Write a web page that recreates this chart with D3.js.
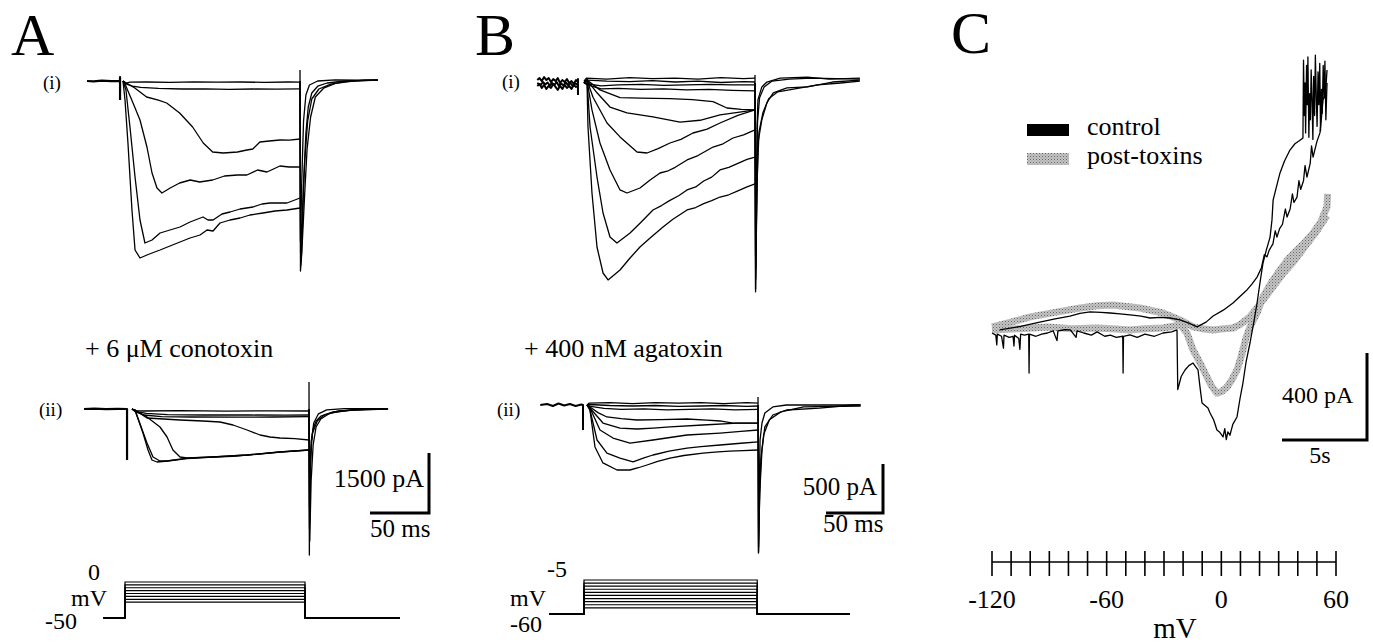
<!DOCTYPE html>
<html>
<head>
<meta charset="utf-8">
<script src="https://cdn.jsdelivr.net/npm/d3@7"></script>
<style>
  body { margin: 0; background: #fff; }
  svg { display: block; }
  text { font-family: "Liberation Serif", "Times New Roman", serif; fill: #000; }
</style>
</head>
<body>
<div id="container"></div>
<script>
// ---------- data: whole-cell currents, [time ms, current pA] ----------
// A (i) control, step -50 -> test potentials
const A1_PRE = [[-30.5, 0], [-25, -10], [-18, 8], [-10, -5], [-2.6, 0], [-2.5, 100], [-2.5, -475]];
const A1_TRACES = [
  [[0, 0], [2, -60], [6, -30], [20, -25], [40, -35], [60, -20], [80, -30], [100, -25], [120, -35], [140, -25], [150, -30]],
  [[0, 0], [3, -80], [8, -130], [15, -160], [30, -185], [50, -200], [70, -195], [90, -210], [110, -200], [130, -205], [150, -195]],
  [[0, 0], [10, -175], [20, -400], [30, -480], [37, -550], [48, -800], [59, -1150], [68, -1550], [76, -1775], [85, -1800], [97, -1775], [105, -1725], [110, -1700], [116, -1525], [124, -1500], [133, -1475], [141, -1480], [150, -1450]],
  [[0, 0], [1.7, -75], [8.5, -550], [14.4, -975], [20.3, -1650], [24.6, -2300], [28.8, -2675], [33, -2800], [40, -2675], [48, -2550], [57, -2475], [65, -2525], [76, -2475], [86, -2375], [97, -2350], [105, -2350], [114, -2225], [122, -2275], [133, -2125], [141, -2150], [150, -2150]],
  [[0, 0], [2.5, -225], [5.9, -1150], [10.2, -2400], [14.4, -3475], [18.6, -4050], [24.6, -3975], [31.4, -3800], [39.8, -3725], [48.3, -3650], [56.8, -3525], [67.8, -3400], [72, -3475], [76.3, -3475], [83.9, -3325], [90.7, -3275], [99.2, -3200], [110.2, -3150], [117.8, -3075], [124.6, -3050], [133, -3050], [139, -3050], [150, -2925]],
  [[0, 0], [1.7, -475], [4.2, -1550], [7.6, -3225], [10.2, -4225], [14.4, -4425], [20.3, -4350], [24.6, -4300], [31.4, -4225], [39.8, -4125], [48.3, -4025], [56.8, -3925], [65.3, -3850], [71.2, -3725], [76.3, -3750], [82.2, -3550], [90.7, -3475], [99.2, -3425], [107.6, -3350], [118.6, -3300], [128.8, -3250], [139, -3225], [150, -3175]]
];
const A1_TAILS = [
  [[150, 275], [150.4, -4750], [151.5, -4300], [153, -2600], [155, -1300], [157, -650], [160, -300], [165, -130], [173, -50], [188, 0], [200, 10], [216, 25]],
  [[150, 0], [150.6, -4600], [152, -4000], [154, -2800], [156, -1700], [159, -900], [163, -400], [170, -180], [180, -60], [195, 0], [205, 20], [216, 15]],
  [[150, 0], [150.4, -4000], [151.5, -2500], [153, -1000], [155, -350], [158, -100], [165, 0], [180, 30], [200, 20], [216, 30]],
  [[150, 0], [150.5, -4300], [152, -3300], [154, -2000], [156.5, -1000], [160, -450], [166, -200], [176, -80], [190, -10], [216, 20]]
];

// A (ii) + conotoxin
const A2_PRE = [[-40.7, 0], [-32, 10], [-22, -5], [-12, 5], [-4.2, 0], [-4.2, -1275]];
const A2_TRACES = [
  [[0, 0], [2, -40], [10, -50], [40, -40], [80, -55], [120, -45], [150, -50]],
  [[0, 0], [3, -60], [12, -110], [30, -140], [60, -150], [100, -150], [130, -155], [150, -150]],
  [[0, 0], [3, -70], [10, -150], [25, -190], [50, -200], [90, -205], [120, -200], [150, -190]],
  [[0, 0], [2.5, -25], [12.7, -225], [40.7, -275], [60, -300], [74.6, -325], [85.6, -400], [97.5, -525], [108.5, -650], [117, -700], [125.4, -725], [138, -740], [150, -775]],
  [[0, 0], [2.5, -25], [12.7, -200], [23.7, -450], [29.7, -700], [34.7, -1025], [40.7, -1200], [46.6, -1225], [68.6, -1200], [97.5, -1150], [125.4, -1075], [150, -1025]],
  [[0, 0], [2.5, -25], [9.3, -600], [13.6, -1025], [16.9, -1275], [21.2, -1325], [30, -1300], [46.6, -1240], [68.6, -1205], [85, -1185], [97.5, -1155], [110, -1120], [125.4, -1080], [150, -1030]],
  [[0, 0], [2.5, -25], [12.7, -850], [17.8, -1200], [23.7, -1300], [29.7, -1300], [46.6, -1230], [68.6, -1195], [97.5, -1150], [125.4, -1070], [150, -1020]]
];
const A2_TAILS = [
  [[150, 675], [150.3, -3650], [150.8, -1500], [152, -800], [153.5, -500], [156, -300], [160, -180], [170, -75], [187, -25], [217, 0]],
  [[150, 0], [150.4, -3000], [151.2, -1200], [153, -600], [157, -300], [163, -150], [175, -50], [200, 0], [217, 0]],
  [[150, 0], [150.5, -2500], [152, -800], [154, -350], [158, -120], [165, -20], [180, 10], [217, 10]],
  [[150, 0], [150.6, -3300], [151.8, -1800], [153.5, -900], [156, -450], [160, -250], [168, -100], [185, -30], [217, 5]]
];

// B (i) control
const B1_PRE = [
  [[-41, 30], [-39, 50], [-37, 20], [-35, 60], [-33, 30], [-31, 50], [-29, 10], [-27, 40], [-25, 20], [-23, 50], [-21, 0], [-19, 30], [-17, 10], [-15, 40], [-13, 0], [-11, 20], [-9, -10], [-7, 30], [-5.3, 10]],
  [[-41, -30], [-39, -10], [-37, -50], [-35, -20], [-33, -60], [-31, -30], [-29, -50], [-27, -10], [-25, -40], [-23, -70], [-21, -30], [-19, -60], [-17, -20], [-15, -50], [-13, -30], [-11, -60], [-9, -20], [-7, -40], [-5.3, -30]],
  [[-41, 0], [-38, -20], [-36, 10], [-34, -15], [-32, 5], [-30, -25], [-28, 0], [-26, -20], [-24, 10], [-22, -30], [-20, -5], [-18, -25], [-16, 5], [-14, -20], [-12, 0], [-10, -30], [-8, -5], [-5.3, -15], [-5.3, 40], [-5.3, -122]]
];
const B1_TRACES = [
  [[0, 20], [2, 50], [20, 40], [40, 55], [60, 45], [80, 50], [100, 40], [120, 55], [140, 45], [150, 50]],
  [[0, 10], [3, 30], [20, 20], [40, 15], [60, 25], [80, 10], [100, 20], [120, 5], [140, 15], [150, 10]],
  [[0, 0], [3, -10], [15, -30], [30, -20], [50, -15], [70, -25], [90, -20], [110, -15], [130, -20], [150, -20]],
  [[0, 0], [3, -20], [15, -60], [30, -55], [50, -65], [70, -60], [90, -70], [110, -65], [130, -75], [150, -80]],
  [[0, 0], [2.6, 30], [14, -70], [31.6, -150], [50, -155], [75.4, -160], [95, -170], [113.2, -190], [125.4, -255], [138, -270], [150, -275]],
  [[0, 0], [2.6, 30], [11.4, -100], [22.8, -245], [37.7, -305], [60.5, -345], [84.2, -400], [101.8, -380], [119.3, -325], [135, -300], [150, -275]],
  [[0, 0], [2.6, 30], [7.9, -145], [20.2, -408], [31.6, -550], [46.5, -704], [55.3, -714], [65, -670], [75.4, -612], [85, -575], [95.6, -510], [108, -470], [119.3, -408], [135, -330], [150, -275]],
  [[0, 0], [2.6, 30], [7, -275], [14, -612], [22.8, -887], [31.6, -1091], [37.7, -1122], [49.1, -1071], [58, -990], [66.7, -918], [73, -900], [80, -860], [90.4, -785], [100, -740], [113.2, -653], [122, -620], [130.7, -561], [140, -530], [150, -479]],
  [[0, 0], [2.6, 30], [5.3, -449], [11.4, -959], [16.7, -1326], [22.8, -1571], [28.9, -1632], [40.4, -1530], [50, -1420], [60.5, -1295], [68, -1250], [75, -1200], [83, -1150], [90.4, -1091], [98, -1060], [105, -1000], [112, -960], [119.3, -887], [127, -860], [135, -820], [143, -780], [150, -755]],
  [[0, 0], [2.6, 30], [3.5, -449], [7, -1122], [11.4, -1673], [16.7, -1938], [21.1, -2009], [31.6, -1907], [40, -1790], [49.1, -1673], [58, -1580], [69.3, -1469], [78, -1390], [90.4, -1295], [98, -1270], [105, -1230], [112, -1200], [119.3, -1163], [127, -1140], [135, -1100], [143, -1060], [150, -1030]]
];
const B1_TAILS = [
  [[150, 82], [150.5, -2130], [151.2, -1400], [151.8, -450], [152.6, -170], [156, -40], [160.5, 10], [172, 50], [196, 60], [215, 40], [242, 50]],
  [[150, 0], [150.6, -2000], [151.5, -1300], [152.6, -610], [156, -375], [160.5, -200], [166, -100], [178, -50], [196, -40], [218, 10], [242, 30]],
  [[150, 0], [150.5, -2100], [151.3, -1000], [152.2, -400], [154, -150], [158, -40], [165, 20], [180, 40], [200, 50], [242, 40]],
  [[150, 0], [150.6, -1900], [151.8, -1000], [153.5, -500], [157, -300], [162, -160], [170, -90], [185, -60], [205, -20], [225, 0], [242, 20]]
];

// B (ii) + agatoxin
const B2_PRE = [[-41, 0], [-35, 10], [-30, -10], [-25, 15], [-20, -5], [-15, 10], [-10, -10], [-5, 5], [-3.5, 0], [-3.5, -255]];
const B2_TRACES = [
  [[0, 0], [2, 20], [20, 25], [40, 15], [60, 25], [80, 20], [100, 25], [120, 15], [140, 25], [150, 20]],
  [[0, 0], [2, 5], [20, -5], [40, -10], [60, -5], [80, -15], [100, -10], [120, -5], [140, -15], [150, -10]],
  [[0, 0], [3, -15], [15, -35], [30, -45], [50, -40], [70, -50], [90, -45], [110, -40], [130, -50], [150, -45]],
  [[0, 0], [2.6, -20], [10, -80], [17.5, -122], [30, -140], [43.9, -153], [65, -150], [87.7, -143], [105, -155], [116.7, -163], [128.1, -184], [150, -184]],
  [[0, 0], [2.6, -31], [14, -184], [28.9, -235], [43.9, -245], [58, -235], [72.8, -224], [101.8, -204], [131.6, -184], [150, -184]],
  [[0, 0], [2.6, -31], [11.4, -255], [22.8, -337], [37.7, -388], [57.9, -357], [87.7, -306], [116.7, -286], [135, -270], [150, -255]],
  [[0, 0], [2.6, -51], [8.8, -357], [17.5, -490], [28.9, -541], [40.4, -581], [50, -540], [57.9, -510], [72, -470], [87.7, -439], [100, -425], [116.7, -408], [135, -390], [150, -377]],
  [[0, 0], [2.6, -51], [7, -428], [14, -591], [26.3, -663], [37.7, -663], [45, -640], [52.6, -612], [62, -575], [72.8, -541], [85, -515], [101.8, -490], [112, -480], [125, -470], [137, -465], [150, -459]]
];
const B2_TAILS = [
  [[150, 82], [150.4, -1510], [151.2, -800], [151.8, -357], [153.5, -184], [156, -82], [163, -20], [175, 0], [204, 0], [240, 0]],
  [[150, 0], [150.5, -1450], [151.5, -900], [153.5, -459], [156, -224], [163, -102], [175, -51], [204, -31], [233, 0], [240, 0]],
  [[150, 0], [150.5, -1500], [151.3, -1000], [152.5, -550], [155, -300], [160, -150], [170, -70], [190, -20], [240, -10]]
];

// voltage protocols (mV)
const PROTO_A_HOLD = -50;
const PROTO_A_STEPS = [-28, -24, -20, -16, -12, -8, -4, 0];
const PROTO_B_HOLD = -60;
const PROTO_B_STEPS = [-50, -45, -40, -35, -30, -25, -20, -15, -10, -5];

// C: ramp currents, [mV, pA]
const CTRL_RAMP = [
  [-120, 0], [-118, -10], [-117.5, -55], [-117.2, -5], [-115, -15], [-114, -70], [-113.7, -10], [-111, -20], [-109, -15], [-108.5, -60], [-108.2, -10],
  [-106, -25], [-105.4, -75], [-105, -5], [-103, -10], [-100.8, -5], [-100.6, -184], [-100.4, -5], [-97, -15], [-94, -5], [-91, 0], [-88, 10],
  [-86, -35], [-85.5, 10], [-82, 15], [-79, 14], [-76, -20], [-75.5, 10], [-72, 0], [-68, -10], [-65, 5], [-61, -15], [-58, -10], [-55, -20],
  [-51.6, -15], [-51.4, -184], [-51.2, -15], [-47.8, -9], [-44, -20], [-40, -5], [-35, -15], [-30.5, 0], [-26, 5], [-23.2, 14],
  [-22.8, -260], [-21, -200], [-19, -170], [-17, -150], [-14.8, -138], [-13, -160], [-12.2, -170], [-11, -260], [-10.1, -322], [-7, -345],
  [-5.9, -368], [-4, -400], [-2.3, -446], [-1, -455], [0.9, -478], [1.8, -440], [2.6, -490], [3.4, -455], [4.5, -470], [6, -420], [8.2, -386],
  [9.8, -300], [11.3, -230], [13, -130], [15, -46], [17, 50], [18.7, 138], [20.2, 230], [21.8, 322], [23.5, 380], [25.5, 441], [26.5, 520],
  [27.1, 611], [28.5, 660], [30.7, 736], [33, 790], [35.9, 841], [38.5, 870], [41, 885], [42.7, 897],
  [43, 1255], [43.4, 1000], [43.8, 1150], [44.1, 920], [44.6, 1230], [45, 1050], [45.3, 1269], [45.8, 900], [46.2, 1100], [46.6, 980],
  [47, 1210], [47.5, 1060], [47.9, 890], [48.3, 1180], [48.8, 1000], [49.2, 1278], [49.7, 1080], [50.1, 950], [50.6, 1200], [51, 1050],
  [51.5, 1240], [51.9, 930], [52.4, 1120], [52.8, 1010], [53.3, 1230], [53.8, 1080], [54.2, 1250], [54.7, 980], [55.3, 1150]
];
const CTRL_RETURN = [
  [55.3, 1209], [54.5, 1100], [53.2, 1071], [52.5, 1000], [51.6, 920], [50, 880], [48, 809], [47.2, 860], [46.5, 780], [44.8, 717], [43.8, 770],
  [43, 700], [41.5, 660], [40.6, 700], [39.6, 625], [38, 600], [37.2, 640], [36, 570], [34.4, 533], [33.5, 570], [32, 500], [30.5, 480],
  [29.1, 441], [28.2, 470], [27, 410], [25, 380], [23.9, 350], [22.5, 360], [21, 300], [18.7, 257], [16, 225], [13.4, 198], [10, 170],
  [6.1, 138], [1, 105], [-4.3, 78], [-8, 50], [-12.7, 28], [-17, 45], [-21.6, 60], [-26.9, 69], [-32, 72], [-37.3, 69], [-42, 78],
  [-47.8, 83], [-53, 88], [-58.2, 92], [-63, 95], [-68.7, 97], [-74, 90], [-79.2, 78], [-87, 65], [-95, 50], [-105, 30], [-116, 14]
];
const TOX_RAMP = [
  [-120, 14], [-105, 20], [-91, 28], [-78, 20], [-65, 23], [-55, 18], [-48, 14], [-40, 20], [-30.5, 23], [-21.6, 37], [-18, 0],
  [-14.8, -78], [-11, -140], [-7.5, -202], [-5, -245], [-2.3, -276], [0, -270], [3, -248], [5.5, -215], [8.2, -170], [10, -120],
  [11.3, -78], [13, -20], [15, 28], [18.7, 92], [21.8, 166], [26, 230], [30.7, 290], [35, 340], [39.6, 382], [44, 420], [48, 460],
  [52, 510], [55.3, 580], [55.6, 640]
];
const TOX_RETURN = [
  [55.3, 540], [50, 470], [44, 400], [38, 330], [32, 270], [26, 200], [20, 130], [15, 75], [10, 40], [6.1, 23], [0, 18], [-4.3, 14],
  [-10, 20], [-14.8, 28], [-21.6, 60], [-30.5, 92], [-42.6, 115], [-56.7, 129], [-65, 125], [-73.9, 115], [-87, 95], [-100, 74],
  [-110, 50], [-120, 28]
];
const MV_TICKS = [-120, -110, -100, -90, -80, -70, -60, -50, -40, -30, -20, -10, 0, 10, 20, 30, 40, 50, 60];
const MV_LABELS = [-120, -60, 0, 60];
const LEGEND = [
  { name: "control", fill: "#000" },
  { name: "post-toxins", fill: "url(#stipple)" }
];

// ---------- svg ----------
const W = 1373, H = 643;
const svg = d3.select("#container").append("svg").attr("width", W).attr("height", H);

const defs = svg.append("defs");
const pat = defs.append("pattern").attr("id", "stipple")
  .attr("patternUnits", "userSpaceOnUse").attr("width", 3).attr("height", 3);
pat.append("rect").attr("width", 3).attr("height", 3).attr("fill", "#c4c4c4");
pat.append("rect").attr("width", 1).attr("height", 1).attr("fill", "#666");
pat.append("rect").attr("x", 1.5).attr("y", 1.5).attr("width", 1).attr("height", 1).attr("fill", "#888");

function label(txt, x, y, size, anchor) {
  return svg.append("text").attr("x", x).attr("y", y)
    .attr("font-size", size).attr("text-anchor", anchor || "start").text(txt);
}

// one set of current sweeps
function drawSweeps(cfg) {
  const x = d3.scaleLinear().domain([0, 150]).range([cfg.x0, cfg.x0 + 150 * cfg.pxPerMs]);
  const y = d3.scaleLinear().domain([0, -1000]).range([cfg.y0, cfg.y0 + 1000 / cfg.pAperPx]);
  const line = d3.line().x(d => x(d[0])).y(d => y(d[1]));
  const g = svg.append("g").attr("fill", "none").attr("stroke", "#000").attr("stroke-linejoin", "round");
  g.selectAll(".pre").data(cfg.pre).join("path").attr("class", "pre")
    .attr("d", line).attr("stroke-width", cfg.preWidth);
  g.selectAll(".tr").data(cfg.traces).join("path").attr("class", "tr")
    .attr("d", line).attr("stroke-width", 1.3);
  g.selectAll(".tail").data(cfg.tails).join("path").attr("class", "tail")
    .attr("d", line).attr("stroke-width", 1.3);
  return { x, y };
}

const a1 = drawSweeps({ x0: 123, y0: 81, pxPerMs: 1.18, pAperPx: 25, pre: [A1_PRE], preWidth: 2.2, traces: A1_TRACES, tails: A1_TAILS });
const a2 = drawSweeps({ x0: 132, y0: 409, pxPerMs: 1.18, pAperPx: 25, pre: [A2_PRE], preWidth: 2.2, traces: A2_TRACES, tails: A2_TAILS });
const b1 = drawSweeps({ x0: 584, y0: 83, pxPerMs: 1.14, pAperPx: 10.2, pre: B1_PRE, preWidth: 2, traces: B1_TRACES, tails: B1_TAILS });
const b2 = drawSweeps({ x0: 587, y0: 405, pxPerMs: 1.14, pAperPx: 10.2, pre: [B2_PRE], preWidth: 2, traces: B2_TRACES, tails: B2_TAILS });

// scale bars (L shape, corner at bottom right)
function scaleBar(s, cx, cy, pA, ms) {
  const hLen = s.x(ms) - s.x(0);
  const vLen = s.y(-pA) - s.y(0);
  svg.append("path").attr("fill", "none").attr("stroke", "#000").attr("stroke-width", 3)
    .attr("d", `M${cx - hLen},${cy}H${cx}V${cy - vLen}`);
}
scaleBar(a2, 429, 513, 1500, 50);
scaleBar(b2, 883, 513, 500, 50);
label("1500 pA", 424, 487, 26, "end");
label("50 ms", 370, 537, 25);
label("500 pA", 877, 495, 25, "end");
label("50 ms", 823, 532, 25);

// voltage protocols
function drawProtocol(cfg) {
  const x = d3.scaleLinear().domain([0, 150]).range([cfg.x0, cfg.x0 + 150 * cfg.pxPerMs]);
  const v = d3.scaleLinear().domain([cfg.hold, cfg.top]).range([cfg.yHold, cfg.yTop]);
  const line = d3.line().x(d => x(d[0])).y(d => v(d[1]));
  svg.append("g").attr("fill", "none").attr("stroke", "#000").attr("stroke-width", 1.2)
    .selectAll("path").data(cfg.steps).join("path")
    .attr("d", s => line([[cfg.tPre, cfg.hold], [0, cfg.hold], [0, s], [150, s], [150, cfg.hold], [cfg.tPost, cfg.hold]]));
}
drawProtocol({ x0: 125, pxPerMs: 1.2, hold: PROTO_A_HOLD, top: 0, yHold: 618, yTop: 582, tPre: -18, tPost: 229, steps: PROTO_A_STEPS });
drawProtocol({ x0: 584, pxPerMs: 1.155, hold: PROTO_B_HOLD, top: -5, yHold: 614, yTop: 580, tPre: -30, tPost: 230, steps: PROTO_B_STEPS });
label("0", 88, 580, 24);
label("mV", 71, 606, 24);
label("-50", 45, 629, 24);
label("-5", 547, 577, 24);
label("mV", 510, 606, 24);
label("-60", 510, 632, 24);

// panel letters and annotations
label("A", 11, 55, 60);
label("B", 475, 55, 60);
label("C", 951, 53, 60);
label("(i)", 43, 89, 19);
label("(ii)", 39, 416, 19);
label("(i)", 502, 88, 19);
label("(ii)", 497, 416, 19);
label("+ 6 \u03bcM conotoxin", 85, 357, 26);
label("+ 400 nM agatoxin", 524, 357, 26);

// ---------- C: ramp I-V ----------
const xC = d3.scaleLinear().domain([-120, 60]).range([992, 1336]);
const yC = d3.scaleLinear().domain([0, 400]).range([333, 246]);
const lineC = d3.line().x(d => xC(d[0])).y(d => yC(d[1]));

svg.append("g").attr("fill", "none").attr("stroke", "url(#stipple)").attr("stroke-width", 7)
  .attr("stroke-linejoin", "round")
  .selectAll("path").data([TOX_RETURN, TOX_RAMP]).join("path").attr("d", lineC);
svg.append("g").attr("fill", "none").attr("stroke", "#000").attr("stroke-width", 1.3)
  .attr("stroke-linejoin", "round")
  .selectAll("path").data([CTRL_RETURN, CTRL_RAMP]).join("path").attr("d", lineC);

// legend
const leg = svg.append("g").selectAll("g").data(LEGEND).join("g")
  .attr("transform", (d, i) => `translate(1027,${124 + i * 29})`);
leg.append("rect").attr("width", 42).attr("height", 12).attr("fill", d => d.fill);
leg.append("text").attr("x", 60).attr("y", 11).attr("font-size", 26).text(d => d.name);

// C scale bar: 400 pA, 5 s
const secScale = d3.scaleLinear().domain([0, 5]).range([0, 85]);
const cx = 1367, cy = 440;
svg.append("path").attr("fill", "none").attr("stroke", "#000").attr("stroke-width", 3)
  .attr("d", `M${cx - secScale(5)},${cy}H${cx}V${cy - (yC(0) - yC(400))}`);
label("400 pA", 1282, 403, 24);
label("5s", 1320, 463, 24, "middle");

// mV axis (ticks cross the line)
const ax = svg.append("g").attr("stroke", "#000").attr("stroke-width", 1.6);
ax.append("line").attr("x1", xC(-120)).attr("x2", xC(60)).attr("y1", 562).attr("y2", 562);
ax.selectAll(".tk").data(MV_TICKS).join("line").attr("class", "tk")
  .attr("x1", d => xC(d)).attr("x2", d => xC(d)).attr("y1", 551).attr("y2", 576);
svg.append("g").selectAll("text").data(MV_LABELS).join("text")
  .attr("x", d => xC(d)).attr("y", 608).attr("font-size", 26).attr("text-anchor", "middle")
  .text(d => d);
label("mV", 1175, 638, 29, "middle");
</script>
</body>
</html>
